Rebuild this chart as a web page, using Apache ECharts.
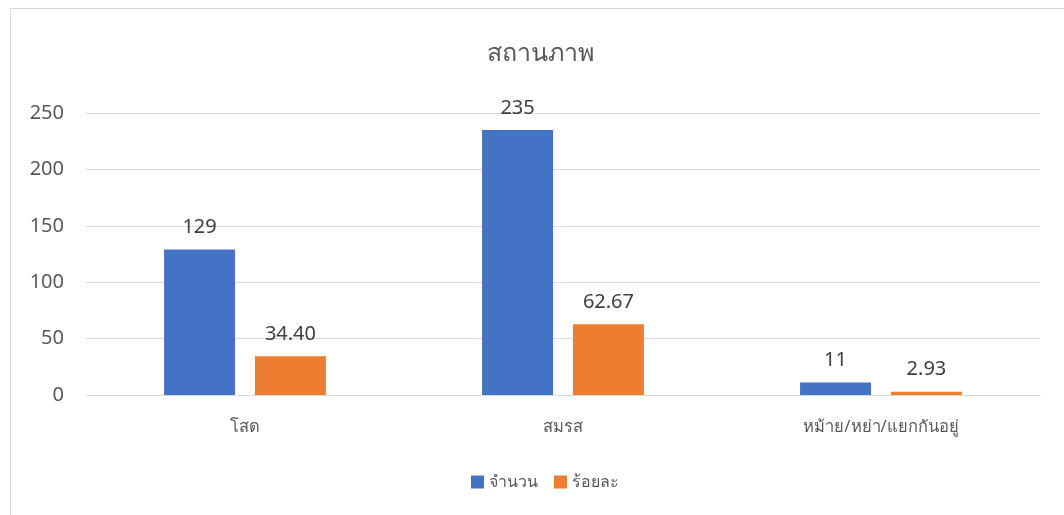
<!DOCTYPE html>
<html>
<head>
<meta charset="utf-8">
<script src="https://cdn.jsdelivr.net/npm/echarts@6/dist/echarts.min.js"></script>
<style>
  html, body { margin: 0; padding: 0; background: #fff; }
  #frame { position: absolute; left: 10px; top: 8px; width: 1060px; height: 520px; border: 1px solid #d9d9d9; box-sizing: border-box; }
  #chart { position: absolute; left: 0; top: 0; width: 1064px; height: 515px; }
</style>
</head>
<body>
<div id="frame"></div>
<div id="chart"></div>
<script>
// Marital status: count and percentage per group
const categories = ['โสด', 'สมรส', 'หม้าย/หย่า/แยกกันอยู่'];
const countValues = [129, 235, 11];
const percentValues = [34.40, 62.67, 2.93];
const percentLabels = ['34.40', '62.67', '2.93'];
const yTicks = [0, 50, 100, 150, 200, 250];

const FONT = '"Noto Sans", "DejaVu Sans", "Liberation Sans", sans-serif';
const chart = echarts.init(document.getElementById('chart'));

chart.setOption({
  animation: false,
  textStyle: { fontFamily: FONT },
  title: {
    text: 'สถานภาพ',
    left: 482,
    top: 36,
    textStyle: { fontSize: 25, fontWeight: 'normal', color: '#595959', fontFamily: FONT }
  },
  legend: {
    bottom: 20,
    left: 466,
    itemWidth: 13,
    itemHeight: 13,
    itemGap: 16,
    icon: 'rect',
    textStyle: { fontSize: 16, color: '#595959', fontFamily: FONT },
    data: ['จำนวน', 'ร้อยละ']
  },
  grid: { left: 86, right: 24, top: 113, bottom: 120 },
  xAxis: {
    type: 'category',
    data: categories,
    axisLine: { lineStyle: { color: '#d9d9d9' } },
    axisTick: { show: false },
    axisLabel: { fontSize: 16.5, color: '#595959', margin: 24, fontFamily: FONT }
  },
  yAxis: {
    type: 'value',
    min: yTicks[0],
    max: yTicks[yTicks.length - 1],
    interval: 50,
    axisLine: { show: false },
    axisTick: { show: false },
    splitLine: { lineStyle: { color: '#d9d9d9' } },
    axisLabel: { fontSize: 20, color: '#595959', margin: 22, fontFamily: FONT }
  },
  series: [
    {
      name: 'จำนวน',
      type: 'bar',
      data: countValues,
      barWidth: 71,
      barGap: '28%',
      itemStyle: { color: '#4472C4' },
      label: { show: true, position: 'top', distance: 12, fontSize: 20, color: '#404040', fontFamily: FONT }
    },
    {
      name: 'ร้อยละ',
      type: 'bar',
      data: percentValues,
      barWidth: 71,
      itemStyle: { color: '#ED7D31' },
      label: {
        show: true, position: 'top', distance: 12, fontSize: 20, color: '#404040', fontFamily: FONT,
        formatter: p => percentLabels[p.dataIndex]
      }
    }
  ]
});
</script>
</body>
</html>
